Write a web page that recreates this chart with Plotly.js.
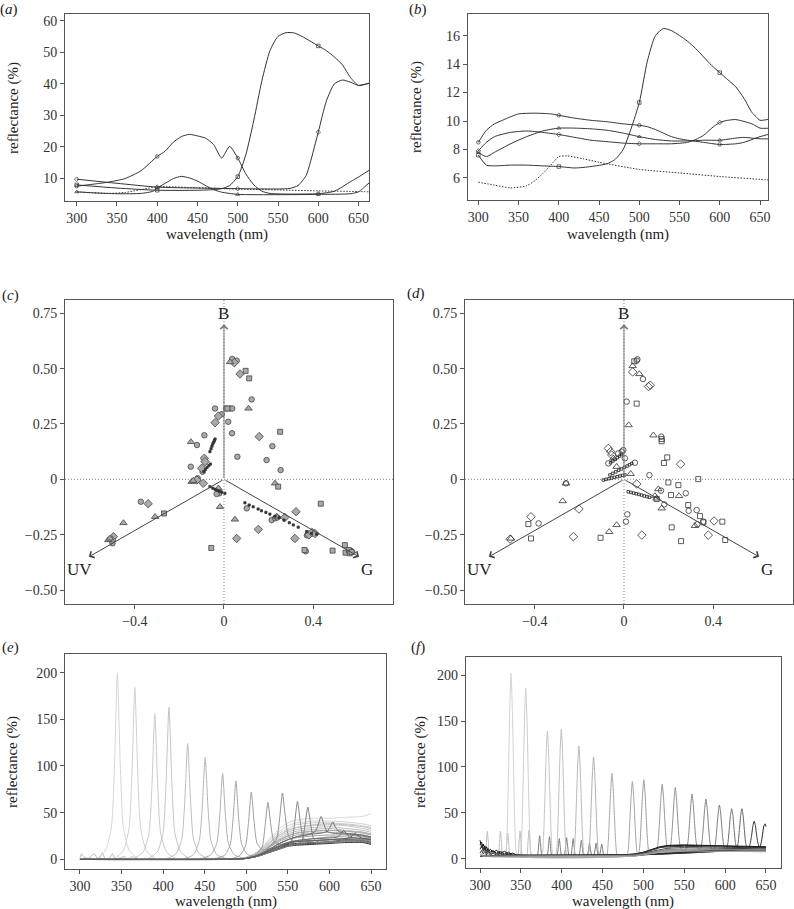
<!DOCTYPE html>
<html><head><meta charset="utf-8">
<script src="https://cdn.plot.ly/plotly-3.0.1.min.js"></script>
<style>html,body{margin:0;padding:0;background:#fff}#chart{width:794px;height:909px}</style>
</head><body><div id="chart"></div>
<script>
// ---------- Panel (a) data: reflectance spectra ----------
const markWl = [300, 400, 500, 600];
const aX1 = [300,320,340,360,380,400,410,420,430,440,450,460,470,480,490,500,510,520,530,540,560,580,600,620,640,650,663];
const aY1 = [7.6,8.2,8.9,10.0,12.5,17.0,18.7,21.5,23.3,24.0,23.5,22.8,20.8,16.5,20.2,16.5,11.5,8.0,6.0,5.3,5.1,5.1,5.2,6.0,9.0,10.5,12.6];
const aX2 = [300,350,400,450,500,550,565,575,585,590,600,610,620,630,640,650,663];
const aY2 = [9.8,8.5,7.3,7.0,6.8,6.7,6.9,7.8,11,15,24.7,34.5,40,41.2,40.5,39.5,40.2];
const aX3 = [300,350,400,450,470,480,490,500,510,520,530,540,550,560,570,580,590,600,610,620,630,640,650,663];
const aY3 = [8.0,7.0,6.3,6.3,6.5,6.8,7.8,10.6,17.5,28.5,41,50.5,55,56.2,56.1,55,53.5,52,50.5,48.5,46,42,39.5,40.2];
const aX4 = [300,320,350,380,395,400,410,420,430,440,450,460,470,480,500,550,600,640,650,655,663];
const aY4 = [5.8,5.5,5.2,5.3,6.0,7.0,8.5,10.0,10.7,10.2,9.2,7.8,6.5,5.7,5.0,4.9,5.0,5.2,5.8,6.8,8.6];
const aXdot = [300,320,340,360,380,400,450,500,550,600,650,663];
const aYdot = [5.8,5.5,5.3,5.6,6.5,7.4,7.1,6.7,6.4,6.1,5.9,5.8];

// ---------- Panel (b) data ----------
const bX1 = [300,310,320,330,340,350,370,390,400,420,440,460,480,500,510,520,530,540,550,560,580,600,620,630,640,650,663];
const bY1 = [8.5,9.35,9.8,10.05,10.3,10.5,10.55,10.5,10.4,10.2,10.05,9.95,9.8,9.7,9.6,9.4,9.15,8.9,8.75,8.65,8.5,8.35,8.4,8.5,8.7,8.9,9.1];
const bX2 = [300,310,320,340,360,380,400,420,440,460,480,500,520,540,560,570,580,590,600,610,620,640,650,663];
const bY2 = [7.9,8.5,8.9,9.2,9.3,9.2,9.05,8.85,8.65,8.55,8.45,8.4,8.4,8.4,8.5,8.7,9.0,9.5,9.9,10.05,10.1,9.8,9.5,9.5];
const bX3 = [300,310,320,340,360,380,400,420,440,460,470,480,490,500,510,520,530,540,550,560,570,580,590,600,610,620,630,640,645,650,663];
const bY3 = [7.6,6.9,6.85,6.9,6.9,6.85,6.8,6.7,6.8,7.0,7.3,8.0,9.5,11.3,14.2,16.0,16.5,16.35,16.0,15.6,15.1,14.5,13.9,13.4,12.9,12.4,11.6,10.6,10.3,10.05,10.15];
const bX4 = [300,310,320,340,360,380,400,420,440,460,480,500,520,540,560,580,600,620,630,640,650,663];
const bY4 = [7.8,7.5,7.8,8.4,8.9,9.3,9.5,9.5,9.45,9.35,9.15,8.9,8.7,8.6,8.6,8.65,8.65,8.8,8.85,8.8,8.75,8.75];
const bXdot = [300,320,340,360,370,380,390,400,410,430,450,500,550,600,650,663];
const bYdot = [5.7,5.5,5.3,5.45,5.8,6.3,6.9,7.5,7.55,7.35,7.1,6.6,6.35,6.1,5.9,5.85];

// ---------- Panel (c) data: colour-space coordinates ----------
const cCircleX = [0.037,0.057,0.124,-0.040,0.009,0.027,0.037,-0.010,0.019,0.036,-0.088,-0.121,0.060,0.191,0.217,0.254,-0.149,-0.096,-0.118,-0.025,-0.021,-0.033,0.102,0.214,0.229,0.372,0.367,-0.373,-0.500,0.239];
const cCircleY = [0.544,0.536,0.361,0.320,0.320,0.320,0.320,0.294,0.260,0.208,0.199,0.155,0.102,0.087,0.150,0.042,0.057,0.034,0.005,-0.048,-0.063,-0.066,-0.131,-0.184,-0.176,-0.253,-0.325,-0.101,-0.289,-0.172];
const cDiamondX = [0.046,0.072,-0.025,-0.040,0.158,-0.088,-0.085,-0.100,-0.122,-0.093,0.323,0.154,0.057,0.318,0.273,0.381,0.395,-0.340,-0.496,-0.504,0.408];
const cDiamondY = [0.527,0.476,0.286,0.256,0.193,0.095,0.080,0.050,-0.003,-0.018,-0.146,-0.226,-0.267,-0.267,-0.172,-0.251,-0.240,-0.110,-0.259,-0.274,-0.245];
const cTriangleX = [0.027,0.110,-0.148,-0.145,-0.138,-0.018,0.229,0.049,0.236,-0.309,-0.451,-0.519,-0.511,0.575,-0.025];
const cTriangleY = [0.530,0.320,0.169,-0.011,-0.006,-0.124,-0.018,-0.181,-0.168,-0.169,-0.197,-0.274,-0.267,-0.325,-0.040];
const cSquareX = [0.097,0.113,0.252,0.243,0.434,-0.269,-0.057,0.361,0.487,0.542,0.545,0.560,0.564,0.572,0.015];
const cSquareY = [0.490,0.456,0.215,-0.033,-0.110,-0.154,-0.310,-0.319,-0.322,-0.297,-0.331,-0.319,-0.334,-0.328,0.320];
const cDotX = [-0.063,-0.058,-0.054,-0.050,-0.046,-0.043,-0.040,-0.090,-0.083,-0.076,-0.068,-0.061,-0.063,-0.050,-0.040,-0.030,-0.020,-0.010,0.004,0.094,0.113,0.131,0.153,0.168,0.188,0.206,0.229,0.248,0.269,0.293,0.311,0.333,0.371,0.393,0.416];
const cDotY = [0.125,0.138,0.150,0.160,0.168,0.175,0.182,0.035,0.045,0.054,0.062,0.069,-0.033,-0.040,-0.045,-0.050,-0.054,-0.058,-0.063,-0.106,-0.116,-0.124,-0.134,-0.142,-0.149,-0.157,-0.166,-0.173,-0.184,-0.196,-0.206,-0.216,-0.236,-0.244,-0.248];

// ---------- Panel (d) data ----------
const dCircleX = [0.060,0.057,0.085,0.012,0.167,-0.026,-0.010,-0.003,-0.070,0.004,0.049,0.114,0.166,0.181,0.277,0.326,0.356,0.329,0.015,0.009,-0.383,-0.260,0.290];
const dCircleY = [0.542,0.536,0.453,0.351,0.193,0.117,0.125,0.132,0.072,0.095,0.075,0.019,-0.051,-0.113,-0.063,-0.139,-0.191,-0.203,-0.158,-0.191,-0.199,-0.018,-0.142];
const dDiamondX = [0.039,0.110,0.118,-0.070,-0.055,0.057,0.254,0.404,0.378,0.080,-0.227,-0.202,-0.417,-0.511,-0.060];
const dDiamondY = [0.485,0.419,0.425,0.140,0.110,-0.021,0.069,-0.188,-0.252,-0.252,-0.259,-0.134,-0.169,-0.270,0.125];
const dTriangleX = [0.039,0.069,0.021,0.132,-0.048,-0.033,0.154,0.139,0.146,0.169,0.247,0.318,-0.033,-0.066,-0.260,-0.275,-0.507,0.030];
const dTriangleY = [0.512,0.476,0.245,0.199,0.095,0.057,-0.044,-0.075,-0.086,-0.131,-0.075,-0.210,-0.206,-0.237,-0.018,-0.098,-0.267,0.025];
const dSquareX = [0.046,0.057,0.169,0.169,0.194,0.179,0.199,0.244,0.333,0.211,0.147,0.288,0.341,0.356,0.214,0.256,0.441,0.454,-0.105,-0.429,-0.417];
const dSquareY = [0.533,0.342,0.182,0.172,0.099,0.074,-0.014,-0.026,0.001,-0.071,-0.089,-0.116,-0.166,-0.194,-0.217,-0.279,-0.191,-0.274,-0.264,-0.202,-0.267];
const dDotX = [-0.093,-0.080,-0.067,-0.055,-0.043,-0.030,-0.018,-0.006,0.004,-0.063,-0.050,-0.037,-0.024,-0.011,0.002,0.014,0.025,0.035,0.019,0.031,0.043,0.055,0.067,0.079,0.091,0.103,0.114,-0.060,-0.050,-0.040,-0.030,-0.020,-0.010];
const dDotY = [-0.003,0.000,0.003,0.006,0.009,0.012,0.015,0.018,0.020,0.020,0.027,0.034,0.041,0.047,0.054,0.060,0.066,0.072,-0.056,-0.059,-0.062,-0.065,-0.068,-0.071,-0.075,-0.078,-0.081,0.075,0.083,0.090,0.098,0.105,0.112];

// colour-space axes (receptor directions)
const rcpNames = ['B', 'UV', 'G'];
const rcpTipX = [0, -0.606, 0.606];
const rcpTipY = [0.70, -0.35, -0.35];
const rcpLabelX = [0, -0.65, 0.643];
const rcpLabelY = [0.75, -0.407, -0.407];

// ---------- Panel (e) data: narrow-band spectra ----------
const ePeakX = [
 [300,320,331,338,341.5,345,348.5,352,359,370,490,500,510,520,530,540,550,560,580,600,620,640,650],
 [300,341,352,359,362.5,366,369.5,373,380,391,490,500,510,520,530,540,550,560,580,600,620,640,650],
 [300,365,376,383,386.5,390,393.5,397,404,415,490,500,510,520,530,540,550,560,580,600,620,640,650],
 [300,382,393,400,403.5,407,410.5,414,421,432,490,500,510,520,530,540,550,560,580,600,620,640,650],
 [300,404.5,415.5,422.5,426,429.5,433,436.5,443.5,454.5,490,500,510,520,530,540,550,560,580,600,620,640,650],
 [300,425.5,436.5,443.5,447,450.5,454,457.5,464.5,475.5,490,500,510,520,530,540,550,560,580,600,620,640,650],
 [300,446.5,457.5,464.5,468,471.5,475,478.5,485.5,496.5,510,520,530,540,550,560,580,600,620,640,650],
 [300,462.5,473.5,480.5,484,487.5,491,494.5,501.5,510,520,530,540,550,560,580,600,620,640,650],
 [300,470,482,492,499,502.5,506,509.5,513,520,530,540,550,560,580,600,620,640,650],
 [300,490,500,512,519,522.5,526,529.5,533,540,550,560,580,600,620,640,650],
 [300,490,500,510,520,529.5,536.5,540,543.5,547,550.5,557.5,570,580,600,620,640,650],
 [300,490,500,510,520,530,540,547.5,554.5,558,561.5,565,568.5,575.5,590,600,620,640,650],
 [300,490,500,510,520,530,540,550,560,567,570.5,574,577.5,581,588,600,620,640,650],
 [300,490,500,510,520,530,540,550,560,576,583,586.5,590,593.5,597,604,620,640,650],
 [300,490,500,510,520,530,540,550,560,580,590,597,600.5,604,607.5,611,618,640,650],
 [300,490,500,510,520,530,540,550,560,580,603,610,613.5,617,620.5,624,631,650],
 [300,490,500,510,520,530,540,550,560,580,600,617,624,627.5,631,634.5,638,645,650]
];
const ePeakY = [
 [0,1,10,36,100,200,100,36,10,1,0.5,2,6,14,24,33,39,42,44,44,45,46,49],
 [0,1,9,33,92,184,92,33,9,1,0.5,2,6,13,22,30,36,39,41,41,40,38,36],
 [0,1,8,28,78,156,78,28,8,1,0.5,2,5,12,20,28,33,37,39,39,38,36,34],
 [0,1,8,29,82,163,82,29,8,1,0.5,2,5,11,19,26,31,34,36,37,36,33,31],
 [0,1,6,22,62,124,62,22,6,1,0.4,1.5,5,10,17,24,29,32,34,35,33,31,29],
 [0,1,5,20,55,109,55,20,5,1,0.4,1.5,4,9,16,22,27,30,32,33,31,29,27],
 [0,1,5,17,46,92,46,17,5,1.5,4,9,15,20,25,28,30,31,30,28,26],
 [0,1,4,15,42,84,42,16,5,4,8,14,19,23,26,28,29,28,26,24],
 [0,0,0.5,4,14,38,72,39,17,10,12,17,21,23,25,26,26,24,22],
 [0,0.3,1,6,13,35,61,37,20,16,18,20,22,24,24,22,20],
 [0,0.3,1,3,6,15,22,43,71,45,26,19,19,20,21,22,21,19],
 [0,0.3,1,2.5,5,9,13,17,20,38,62,40,23,19,18,19,20,19,17],
 [0,0.2,1,2.5,5,8,11,14,16,20,36,56,37,22,18,18,19,20,17],
 [0,0.3,1.2,3,7,12,17,21,24,27,30,37,46,37,30,28,27,25,23],
 [0,0.3,1.2,3,7,12,17,21,24,27,28,30,34,40,34,30,28,26,24],
 [0,0.3,1,3,6,11,15,18,20,22,23,24,27,31,27,24,23,21],
 [0,0.3,1,3,6,10,14,17,19,20,21,22,23,25,28,25,23,22,21]
];
const eSecX = [300,302,305,310,313,317,321,323,325,327,330,334,337,339,342,347,350,353,356,360,363,366,372];
const eSecY = [2,6,2,1,3,6,1,1,3,7,1,1,3,6,1,1,2,3,1,1,3,1,0];
const eBaseX = [300,470,490,500,510,520,530,540,550,560,580,600,620,640,650];
const eBaseY = [
 [0,0,0.5,2,5,11,19,26,31,34,37,38,37,35,33],
 [0,0,0.4,1.5,4,9,15,21,25,28,30,31,30,29,27],
 [0,0,0.3,1,3,6,10,14,17,19,20,21,22,21,19],
 [0,0,0.3,1,3,6,9,13,16,17,18,19,21,20,18],
 [0,0,0.2,1,2.5,5,9,12,15,16,17,18,20,19,17],
 [0,0,0.2,1,2.5,5,8,11,14,15,16,17,18,18,16]
];

// ---------- Panel (f) data ----------
const fPeakX = [
 [300,330,332,333.5,335,336.5,338,339.5,341,342.5,344,346,490,520,650],
 [300,348,350,351.5,353,354.5,356,357.5,359,360.5,362,364,490,520,650],
 [300,374.5,376.5,378,379.5,381,382.5,384,385.5,387,388.5,390.5,490,520,650],
 [300,391.5,393.5,395,396.5,398,399.5,401,402.5,404,405.5,407.5,490,520,650],
 [300,413,415,416.5,418,419.5,421,422.5,424,425.5,427,429,490,520,650],
 [300,431,433,434.5,436,437.5,439,440.5,442,443.5,445,447,490,520,650],
 [300,453.5,455.5,457,458.5,460,461.5,463,464.5,466,467.5,469.5,490,520,650],
 [300,478.5,480.5,482,483.5,485,486.5,488,489.5,491,492.5,494.5,520,650],
 [300,490,492.5,494.5,496,497.5,499,500.5,502,503.5,505,506.5,508.5,530,650],
 [300,490,515,517,518.5,520,521.5,523,524.5,526,527.5,529,531,650],
 [300,490,531,533,534.5,536,537.5,539,540.5,542,543.5,545,547,650],
 [300,490,551.5,553.5,555,556.5,558,559.5,561,562.5,564,565.5,567.5,650],
 [300,490,568.5,570.5,572,573.5,575,576.5,578,579.5,581,582.5,584.5,650],
 [300,490,585,587,588.5,590,591.5,593,594.5,596,597.5,599,601,650],
 [300,490,600,602,603.5,605,606.5,608,609.5,611,612.5,614,616,650],
 [300,490,612.5,614.5,616,617.5,619,620.5,622,623.5,625,626.5,628.5,650],
 [300,490,627.5,629.5,631,632.5,634,635.5,637,638.5,640,641.5,643.5,650],
 [300,490,638,641,643,644.5,646,647.5,649,650]
];
const fPeakY = [
 [3,3,10,40,101,166,202,166,101,40,10,3,3,8,8],
 [3,3,9,37,93,153,186,153,93,37,9,3,3,8,8],
 [3,3,7,28,70,114,139,114,70,28,7,3,3,8,8],
 [3,3,7,28,71,116,141,116,71,28,7,3,3,8,8],
 [3,3,6,25,62,101,123,101,62,25,6,3,3,8,8],
 [3,3,6,22,56,91,111,91,56,22,6,3,3,8,8],
 [3,3,5,19,47,76,93,76,47,19,5,3,3,8,8],
 [3,3,5,17,43,69,84,69,43,18,6,4,8,8],
 [3,3,4,7,19,45,71,86,71,45,20,8,6,9,9],
 [3,4,9,12,24,45,68,81.5,68,45,24,12,10,9],
 [3,4,10,13,24,43,65,77.5,65,43,24,13,10,9],
 [3,4,10,13,22,40,59,70.5,59,40,22,13,10,9],
 [3,4,10,12,21,37,55,65,55,37,21,12,10,9],
 [3,4,10,12,19,34,50,58.5,50,34,19,12,10,9],
 [3,4,10,12,18,32,47,54.5,47,32,18,12,10,9],
 [3,4,10,12,18,32,47,54.5,47,32,18,12,10,9],
 [3,4,11,13,18,26,36,41,36,26,18,13,12,12],
 [3,4,12,12,14,19,28,36,38,35]
];
const fSecLightX = [300,306,307.8,309,310.2,312,322,323.8,325,326.2,328,331,332.8,334,335.2,337,346,347.8,349,350.2,352,357,358.8,360,361.2,363,380];
const fSecLightY = [3,3,18,30,18,3,3,18,30,18,3,3,17,28,17,3,3,18,30,18,3,3,19,31,19,3,3];
const fSecDarkX = [365,370,371.8,373,374.2,376,382,383.8,385,386.2,388,394,395.8,397,398.2,400,403,404.8,406,407.2,409,411,412.8,414,415.2,417,421,422.8,424,425.2,427,431,432.8,434,435.2,437,439,440.8,442,443.2,445,446,447.8,449,450.2,452,470];
const fSecDarkY = [3,3,15,25,15,3,3,14,24,14,3,3,13,22,13,3,3,14,23,14,3,3,13,22,13,3,3,12,20,12,3,3,10,17,10,3,3,10,17,10,3,3,10,16,10,3,3];
const fBaseX = [300,302,304,306,308,310,313,316,320,325,330,335,340,345,360,400,450,480,490,500,510,520,530,550,600,650];
const fBaseY = [
 [20,12,16,9,13,8,10,7,9,6,8,5,6,4,3.5,3.5,4,4.5,5,7,10,13,14.5,15,14,13],
 [15,18,10,14,8,11,7,9,6,8,5,7,4,4,3.5,3.5,4,4.5,5,7,10,12.5,14,14.5,13.5,12.5],
 [10,14,8,12,6,9,5,8,5,6,4,5,4,3.5,3.5,3.5,4,4.5,5,6.5,9.5,12,13,13.5,12.5,11.5],
 [6,9,5,8,4,7,4,6,4,5,3,4,3,3,3,3,3.5,4,4.5,6,8,10,11.5,12,11,10.5],
 [4,5,3,4,3,4,3,3,3,3,3,3,3,3,3,3,3.5,3.5,4,5,7,9,10,10.5,10,9.5],
 [3,4,2,3,2,3,2,2,2,2,2,2,2,2,2,2,2.5,2.5,3,4,5.5,7,8,8.5,8,7.5]
];

// ---------- Tick labels ----------
const wlTicks = [300,350,400,450,500,550,600,650];
const aYTicks = [10,20,30,40,50,60];
const bYTicks = [6,8,10,12,14,16];
const csXTicks = [-0.4, 0, 0.4];
const csXText = ['\u22120.4','0','0.4'];
const csYTicks = [-0.5,-0.25,0,0.25,0.5,0.75];
const csYText = ['\u22120.50','\u22120.25','0','0.25','0.50','0.75'];
const efYTicks = [0,50,100,150,200];

// ================= drawing =================
const FONT = 'Liberation Serif';
const W = 794, H = 909;
const fx = p => p / W, fy = p => 1 - p / H;
const traces = [];
const layout = {
  width: W, height: H, margin: {l:0, r:0, t:0, b:0},
  paper_bgcolor: '#fff', plot_bgcolor: '#fff', showlegend: false,
  font: {family: FONT, color: '#222'},
  annotations: [], shapes: []
};

function setAxes(n, box, xr, yr, xt, xtt, yt, ytt) {
  const common = {showline:true, mirror:true, linecolor:'#555', linewidth:1, ticks:'outside', ticklen:4,
    tickwidth:1, tickcolor:'#555', showgrid:false, zeroline:false, fixedrange:true,
    tickfont:{family:FONT, size:14, color:'#333'}, tickmode:'array'};
  const sx = n === 1 ? '' : n;
  layout['xaxis' + sx] = Object.assign({}, common, {domain:[fx(box[0]), fx(box[2])], range:xr,
    anchor:'y' + sx, tickvals:xt, ticktext:xtt});
  layout['yaxis' + sx] = Object.assign({}, common, {domain:[fy(box[3]), fy(box[1])], range:yr,
    anchor:'x' + sx, tickvals:yt, ticktext:ytt});
}
setAxes(1, [65,14,369,201], [285.5,663], [2.9,62.1], wlTicks, wlTicks.map(String), aYTicks, aYTicks.map(String));
setAxes(2, [467.7,14,768.3,200], [286.8,660.3], [4.45,17.52], wlTicks, wlTicks.map(String), bYTicks, bYTicks.map(String));
setAxes(3, [65,300,393,604], [-0.713,0.758], [-0.563,0.81], csXTicks, csXText, csYTicks, csYText);
setAxes(4, [465,300,793,604], [-0.713,0.758], [-0.563,0.81], csXTicks, csXText, csYTicks, csYText);
setAxes(5, [65,654,386,869.3], [282,668], [-10.7,220], wlTicks, wlTicks.map(String), efYTicks, efYTicks.map(String));
setAxes(6, [465.7,656.7,780.7,868.3], [282.5,668], [-10.5,220.3], wlTicks, wlTicks.map(String), efYTicks, efYTicks.map(String));

function line(xs, ys, ax, color, width, dash, shape) {
  traces.push({x:xs, y:ys, xaxis:'x'+ax, yaxis:'y'+ax, mode:'lines', hoverinfo:'skip',
    line:{color:color, width:width, dash:dash||'solid', shape:shape||'spline', smoothing:0.6}});
}
function markersAt(xs, ys, ax, symbol) {
  const mx = [], my = [];
  xs.forEach((v, j) => { if (markWl.includes(v)) { mx.push(v); my.push(ys[j]); } });
  traces.push({x:mx, y:my, xaxis:'x'+ax, yaxis:'y'+ax, mode:'markers', hoverinfo:'skip',
    marker:{symbol:symbol, size:3.5, color:'#444', line:{width:0.8, color:'#444'}}});
}
const specSymbols = ['circle-open','diamond-open','square-open','triangle-up-open'];

// (a)
[[aX1,aY1],[aX2,aY2],[aX3,aY3],[aX4,aY4]].forEach((c, i) => { line(c[0], c[1], '', '#333', 1); markersAt(c[0], c[1], '', specSymbols[i]); });
line(aXdot, aYdot, '', '#333', 1, '1.5px,1.5px');
// (b)
[[bX1,bY1],[bX2,bY2],[bX3,bY3],[bX4,bY4]].forEach((c, i) => { line(c[0], c[1], '2', '#333', 1); markersAt(c[0], c[1], '2', ['circle-open','diamond-open','square-open','triangle-up-open'][i]); });
line(bXdot, bYdot, '2', '#333', 1, '1.5px,1.5px');

// (c), (d)
function scat(xs, ys, ax, symbol, size, fill, outline) {
  traces.push({x:xs, y:ys, xaxis:'x'+ax, yaxis:'y'+ax, mode:'markers', hoverinfo:'skip',
    marker:{symbol:symbol, size:size, color:fill, line:{width:0.8, color:outline}}});
}
scat(cCircleX, cCircleY, '3', 'circle', 5.5, '#aaa', '#444');
scat(cDiamondX, cDiamondY, '3', 'diamond', 6.5, '#aaa', '#444');
scat(cTriangleX, cTriangleY, '3', 'triangle-up', 6.5, '#aaa', '#444');
scat(cSquareX, cSquareY, '3', 'square', 5, '#aaa', '#444');
scat(cDotX, cDotY, '3', 'square', 2.2, '#333', '#333');
scat(dCircleX, dCircleY, '4', 'circle-open', 5.5, '#333', '#333');
scat(dDiamondX, dDiamondY, '4', 'diamond-open', 6.5, '#333', '#333');
scat(dTriangleX, dTriangleY, '4', 'triangle-up-open', 6.5, '#333', '#333');
scat(dSquareX, dSquareY, '4', 'square-open', 5, '#333', '#333');
scat(dDotX, dDotY, '4', 'square-open', 2.5, '#222', '#222');

['3','4'].forEach(ax => {
  layout.shapes.push({type:'line', layer:'below', xref:'x'+ax, yref:'y'+ax+' domain', x0:0, x1:0, y0:0, y1:1, line:{color:'#888', width:1, dash:'1px,2px'}});
  layout.shapes.push({type:'line', layer:'below', xref:'x'+ax+' domain', yref:'y'+ax, x0:0, x1:1, y0:0, y1:0, line:{color:'#888', width:1, dash:'1px,2px'}});
  rcpNames.forEach((nm, i) => {
    layout.annotations.push({xref:'x'+ax, yref:'y'+ax, axref:'x'+ax, ayref:'y'+ax, x:rcpTipX[i], y:rcpTipY[i], ax:0, ay:0,
      text:'', showarrow:true, arrowhead:4, arrowsize:1.4, arrowwidth:1, arrowcolor: i === 0 ? '#777' : '#444', standoff:0, startstandoff:0});
    layout.annotations.push({xref:'x'+ax, yref:'y'+ax, x:rcpLabelX[i], y:rcpLabelY[i], text:nm, showarrow:false,
      font:{family:FONT, size:17, color:'#222'}, xanchor:'center', yanchor:'middle'});
  });
});

// (e)
const eShades = ['#d6d6d6','#d0d0d0','#cacaca','#c4c4c4','#bebebe','#b6b6b6','#aeaeae','#a6a6a6','#9e9e9e','#969696','#8e8e8e','#868686','#7e7e7e','#767676','#6e6e6e','#666666','#5e5e5e'];
const eBaseShades = ['#bbbbbb','#999999','#555555','#3a3a3a','#444444','#2a2a2a'];
line(eSecX, eSecY, '5', '#b8b8b8', 1);
eBaseY.forEach((ys, i) => line(eBaseX, ys, '5', eBaseShades[i], 1));
ePeakX.forEach((xs, i) => line(xs, ePeakY[i], '5', eShades[i], 1));

// (f)
const fShades = ['#d2d2d2','#cdcdcd','#c6c6c6','#c0c0c0','#b8b8b8','#b0b0b0','#a8a8a8','#a2a2a2','#9c9c9c','#969696','#909090','#888888','#808080','#787878','#6c6c6c','#606060','#3a3a3a','#222222'];
const fBaseShades = ['#111111','#222222','#333333','#444444','#888888','#aaaaaa'];
line(fSecLightX, fSecLightY, '6', '#bdbdbd', 1);
line(fSecDarkX, fSecDarkY, '6', '#7a7a7a', 1);
fPeakX.forEach((xs, i) => line(xs, fPeakY[i], '6', fShades[i], 1));
fBaseY.forEach((ys, i) => line(fBaseX, ys, '6', fBaseShades[i], 1, 'solid', 'linear'));

// text: panel labels and axis titles
function txt(t, x, y, size, angle) {
  layout.annotations.push({xref:'paper', yref:'paper', x:fx(x), y:fy(y), text:t, showarrow:false,
    xanchor:'center', yanchor:'middle', textangle:angle||0, font:{family:FONT, size:size, color:'#222'}});
}
txt('(<i>a</i>)', 9, 9, 15); txt('(<i>b</i>)', 418, 9, 15);
txt('(<i>c</i>)', 10, 295, 15); txt('(<i>d</i>)', 416, 294, 15);
txt('(<i>e</i>)', 10, 647, 15); txt('(<i>f</i>)', 418, 647, 15);
txt('reflectance (%)', 13, 108, 15, -90); txt('reflectance (%)', 416, 107, 15, -90);
txt('reflectance (%)', 12, 762, 15, -90); txt('reflectance (%)', 420, 762, 15, -90);
txt('wavelength (nm)', 217, 235, 15); txt('wavelength (nm)', 618, 235, 15);
txt('wavelength (nm)', 226, 901, 15); txt('wavelength (nm)', 623, 901, 15);

Plotly.newPlot('chart', traces, layout, {staticPlot:true, displayModeBar:false});
</script></body></html>
